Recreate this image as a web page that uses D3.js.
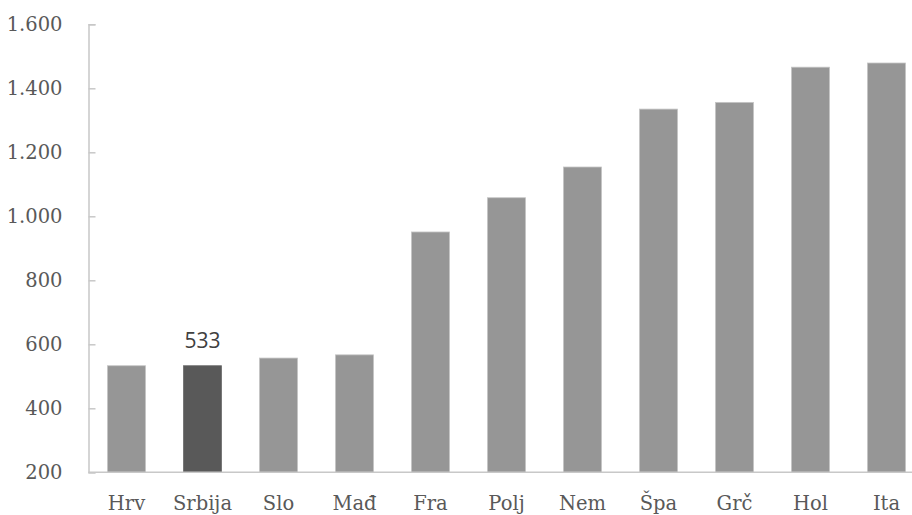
<!DOCTYPE html>
<html lang="sr">
<head>
<meta charset="UTF-8">
<title>Bar chart</title>
<script src="https://cdn.jsdelivr.net/npm/d3@7/dist/d3.min.js"></script>
<style>
  body { margin: 0; background: #fff; }
  svg text { font-family: "DejaVu Serif", "Liberation Serif", serif; fill: #595959; }
</style>
</head>
<body>
<script>
var countries = ["Hrv", "Srbija", "Slo", "Mađ", "Fra", "Polj", "Nem", "Špa", "Grč", "Hol", "Ita"];
var values = [533, 533, 557, 567, 951, 1058, 1154, 1335, 1356, 1466, 1479];
var yTicks = [200, 400, 600, 800, 1000, 1200, 1400, 1600];
var highlight = "Srbija";

var width = 912, height = 515;
var plotLeft = 88.5, plotTop = 24.3, plotBottom = 472.3;

var svg = d3.select("body").append("svg")
    .attr("width", width)
    .attr("height", height);

var x = d3.scaleBand()
    .domain(countries)
    .range([plotLeft, plotLeft + 11 * 76])
    .paddingInner(0.5)
    .paddingOuter(0.25);

var y = d3.scaleLinear()
    .domain([200, 1600])
    .range([plotBottom, plotTop]);

var fmt = function (d) { return d3.format(",")(d).replace(/,/g, "."); };

// bars
svg.selectAll("rect.bar")
    .data(countries)
    .enter()
    .append("rect")
    .attr("class", "bar")
    .attr("x", function (d) { return x(d); })
    .attr("width", x.bandwidth())
    .attr("y", function (d, i) { return y(values[i]); })
    .attr("height", function (d, i) { return plotBottom - y(values[i]); })
    .attr("fill", function (d) { return d === highlight ? "#595959" : "#969696"; })
    .attr("stroke", function (d) { return d === highlight ? "#6a6a6a" : "#c4c4c4"; })
    .attr("stroke-width", 0.8);

// y axis
var yAxis = svg.append("g")
    .attr("transform", "translate(" + plotLeft + ",0)")
    .call(d3.axisRight(y).tickValues(yTicks).tickSize(7).tickFormat(fmt));
yAxis.select(".domain").attr("stroke", "#c8c8c8").attr("stroke-width", 1.5);
yAxis.selectAll(".tick line").attr("stroke", "#c8c8c8").attr("stroke-width", 1.5);
yAxis.selectAll(".tick text")
    .attr("x", -26)
    .attr("text-anchor", "end")
    .style("font-size", "19.5px");

// x axis
var xAxis = svg.append("g")
    .attr("transform", "translate(0," + plotBottom + ")")
    .call(d3.axisBottom(x).tickSize(0).tickSizeOuter(0));
xAxis.select(".domain")
    .attr("d", "M" + plotLeft + ",0H" + width)
    .attr("stroke", "#c8c8c8").attr("stroke-width", 1.5);
xAxis.selectAll(".tick text")
    .attr("dy", 0)
    .attr("y", 37.5)
    .style("font-size", "19.5px");

// value label for highlighted bar
var hi = countries.indexOf(highlight);
svg.append("text")
    .attr("x", x(highlight) + x.bandwidth() / 2)
    .attr("y", y(values[hi]) - 18)
    .attr("text-anchor", "middle")
    .style("font-family", "'Open Sans', 'Noto Sans', sans-serif")
    .style("font-size", "21px")
    .style("fill", "#404040")
    .text(values[hi]);
</script>
</body>
</html>
